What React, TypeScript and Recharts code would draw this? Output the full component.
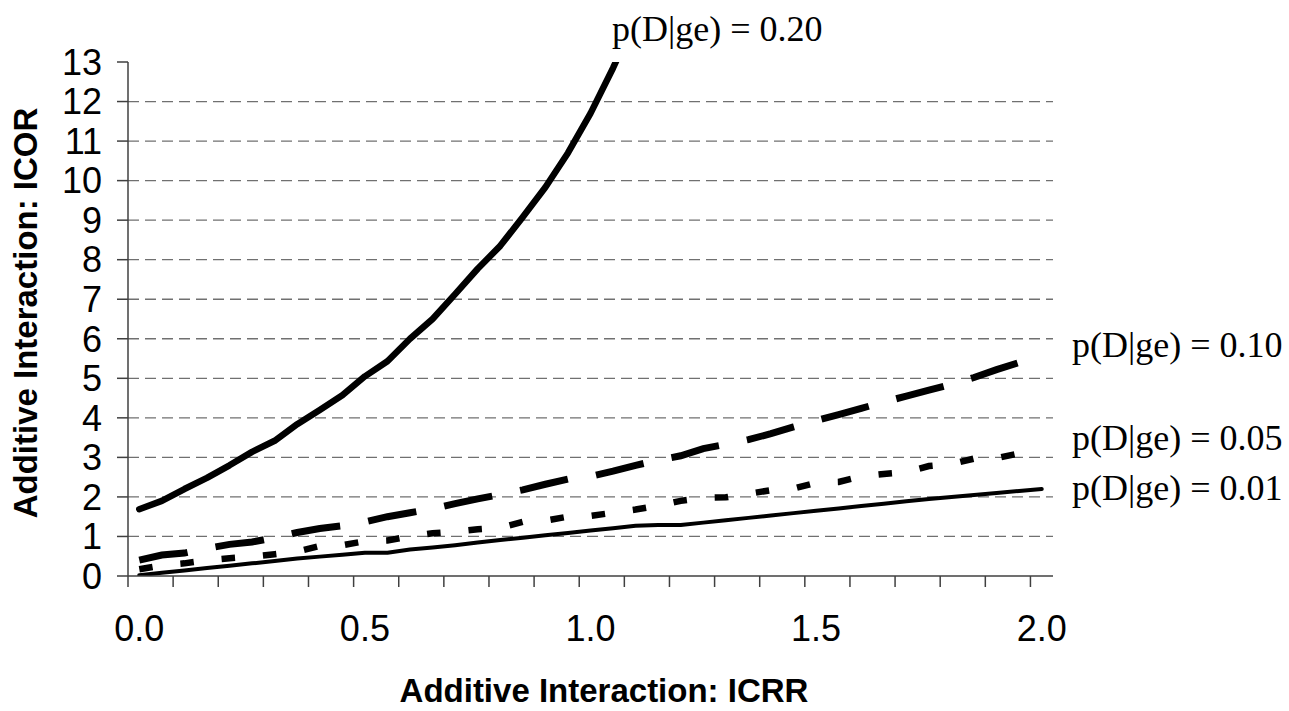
import React from 'react';
import { LineChart, Line, XAxis, YAxis, CartesianGrid } from 'recharts';

// ICRR values (x), one category every 0.05
const xValues = [
  0, 0.05, 0.1, 0.15, 0.2, 0.25, 0.3, 0.35, 0.4, 0.45,
  0.5, 0.55, 0.6, 0.65, 0.7, 0.75, 0.8, 0.85, 0.9, 0.95,
  1.0, 1.05, 1.1, 1.15, 1.2, 1.25, 1.3, 1.35, 1.4, 1.45,
  1.5, 1.55, 1.6, 1.65, 1.7, 1.75, 1.8, 1.85, 1.9, 1.95, 2.0,
];

// ICOR for p(D|ge) = 0.20 (runs off the top after ~1.05)
const p20 = [
  1.69, 1.9, 2.2, 2.48, 2.8, 3.14, 3.42, 3.84, 4.2, 4.57,
  5.05, 5.43, 6.0, 6.5, 7.13, 7.77, 8.35, 9.08, 9.83, 10.7,
  11.7, 12.85, 14.1, null, null, null, null, null, null, null,
  null, null, null, null, null, null, null, null, null, null, null,
];

// ICOR for p(D|ge) = 0.10
const p10 = [
  0.4, 0.53, 0.58, 0.7, 0.8, 0.86, 0.97, 1.1, 1.2, 1.27,
  1.37, 1.5, 1.6, 1.7, 1.83, 1.95, 2.06, 2.18, 2.32, 2.45,
  2.52, 2.65, 2.8, 2.93, 3.04, 3.22, 3.33, 3.45, 3.6, 3.77,
  3.93, 4.08, 4.24, 4.4, 4.55, 4.7, 4.85, 5.02, 5.22, 5.4, 5.55,
];

// ICOR for p(D|ge) = 0.05
const p05 = [
  0.17, 0.27, 0.32, 0.4, 0.45, 0.49, 0.55, 0.62, 0.76, 0.78,
  0.88, 0.9, 1.0, 1.08, 1.12, 1.18, 1.22, 1.37, 1.4, 1.5,
  1.52, 1.6, 1.68, 1.78, 1.9, 1.98, 1.99, 2.08, 2.17, 2.21,
  2.36, 2.38, 2.52, 2.58, 2.63, 2.78, 2.83, 2.97, 2.98, 3.1, 3.12,
];

// ICOR for p(D|ge) = 0.01
const p01 = [
  0.02, 0.08, 0.14, 0.2, 0.26, 0.32, 0.38, 0.44, 0.49, 0.54,
  0.59, 0.59, 0.67, 0.72, 0.78, 0.85, 0.91, 0.97, 1.03, 1.09,
  1.15, 1.21, 1.27, 1.29, 1.29, 1.35, 1.41, 1.47, 1.53, 1.59,
  1.65, 1.71, 1.77, 1.83, 1.89, 1.95, 2.0, 2.05, 2.1, 2.15, 2.2,
];

// tick marks sit between categories (every second one), labels on categories
const xTickMarks = [
  -0.025, 0.075, 0.175, 0.275, 0.375, 0.475, 0.575, 0.675, 0.775, 0.875,
  0.975, 1.075, 1.175, 1.275, 1.375, 1.475, 1.575, 1.675, 1.775, 1.875, 1.975,
];
const xTickLabels = [0, 0.5, 1, 1.5, 2];
const yTicks = [0, 1, 2, 3, 4, 5, 6, 7, 8, 9, 10, 11, 12, 13];
const gridValues = [1, 2, 3, 4, 5, 6, 7, 8, 9, 10, 11, 12];

const data = xValues.map((x, i) => ({
  x,
  p20: p20[i],
  p10: p10[i],
  p05: p05[i],
  p01: p01[i],
}));

const SANS = '"Liberation Sans", Arial, sans-serif';
const SERIF = '"Liberation Serif", "Times New Roman", serif';
const AXIS = '#404040';

const XTick = (props: any) => {
  const { x, y, payload } = props;
  const v = payload.value;
  if (xTickLabels.includes(v)) {
    return (
      <text x={x} y={y + 65} textAnchor="middle" fontSize={36} fontFamily={SANS} fill="#000">
        {Number(v).toFixed(1)}
      </text>
    );
  }
  return <line x1={x} x2={x} y1={y} y2={y + 11} stroke={AXIS} strokeWidth={1.5} />;
};

export default function App() {
  return (
    <div style={{ position: 'relative', width: 1289, height: 711, background: '#fff' }}>
      <style>{'body{margin:0}'}</style>
      <LineChart
        width={1289}
        height={711}
        data={data}
        margin={{ top: 62, right: 236, bottom: 0, left: 0 }}
      >
        <CartesianGrid
          vertical={false}
          horizontalValues={gridValues}
          stroke="#707070"
          strokeWidth={1.3}
          strokeDasharray="11 6"
        />
        <XAxis
          dataKey="x"
          type="number"
          domain={[-0.025, 2.025]}
          ticks={[...xTickMarks, ...xTickLabels]}
          interval={0}
          height={135}
          tickSize={0}
          tickMargin={0}
          tickLine={false}
          axisLine={{ stroke: AXIS, strokeWidth: 1.5 }}
          tick={XTick}
        />
        <YAxis
          type="number"
          domain={[0, 13]}
          ticks={yTicks}
          interval={0}
          allowDataOverflow
          width={128}
          tickSize={11}
          tickMargin={15}
          axisLine={{ stroke: AXIS, strokeWidth: 1.5 }}
          tickLine={{ stroke: AXIS, strokeWidth: 1.5 }}
          tick={{ fill: '#000', fontSize: 36, fontFamily: SANS }}
        />
        <Line
          dataKey="p01"
          type="linear"
          stroke="#000"
          strokeWidth={4}
          strokeLinecap="round"
          strokeLinejoin="round"
          dot={false}
          activeDot={false}
          isAnimationActive={false}
        />
        <Line
          dataKey="p05"
          type="linear"
          stroke="#000"
          strokeWidth={6.5}
          strokeDasharray="13.5 28"
          dot={false}
          activeDot={false}
          isAnimationActive={false}
        />
        <Line
          dataKey="p10"
          type="linear"
          stroke="#000"
          strokeWidth={7}
          strokeDasharray="49 28.5"
          dot={false}
          activeDot={false}
          isAnimationActive={false}
        />
        <Line
          dataKey="p20"
          type="linear"
          stroke="#000"
          strokeWidth={6.5}
          strokeLinecap="round"
          strokeLinejoin="round"
          dot={false}
          activeDot={false}
          isAnimationActive={false}
        />
      </LineChart>

      {/* titles and series labels */}
      <svg
        width={1289}
        height={711}
        style={{ position: 'absolute', left: 0, top: 0, pointerEvents: 'none' }}
      >
        <text
          transform="translate(37,313) rotate(-90)"
          textAnchor="middle"
          fontSize={33}
          fontWeight="bold"
          fontFamily={SANS}
          fill="#000"
        >
          Additive Interaction: ICOR
        </text>
        <text x={604} y={702} textAnchor="middle" fontSize={33} fontWeight="bold" fontFamily={SANS} fill="#000">
          Additive Interaction: ICRR
        </text>
        <g fontSize={36} fontFamily={SERIF} fill="#000">
          <text x={612} y={41}>p(D|ge) = 0.20</text>
          <text x={1072} y={357}>p(D|ge) = 0.10</text>
          <text x={1072} y={450}>p(D|ge) = 0.05</text>
          <text x={1072} y={500}>p(D|ge) = 0.01</text>
        </g>
      </svg>
    </div>
  );
}
